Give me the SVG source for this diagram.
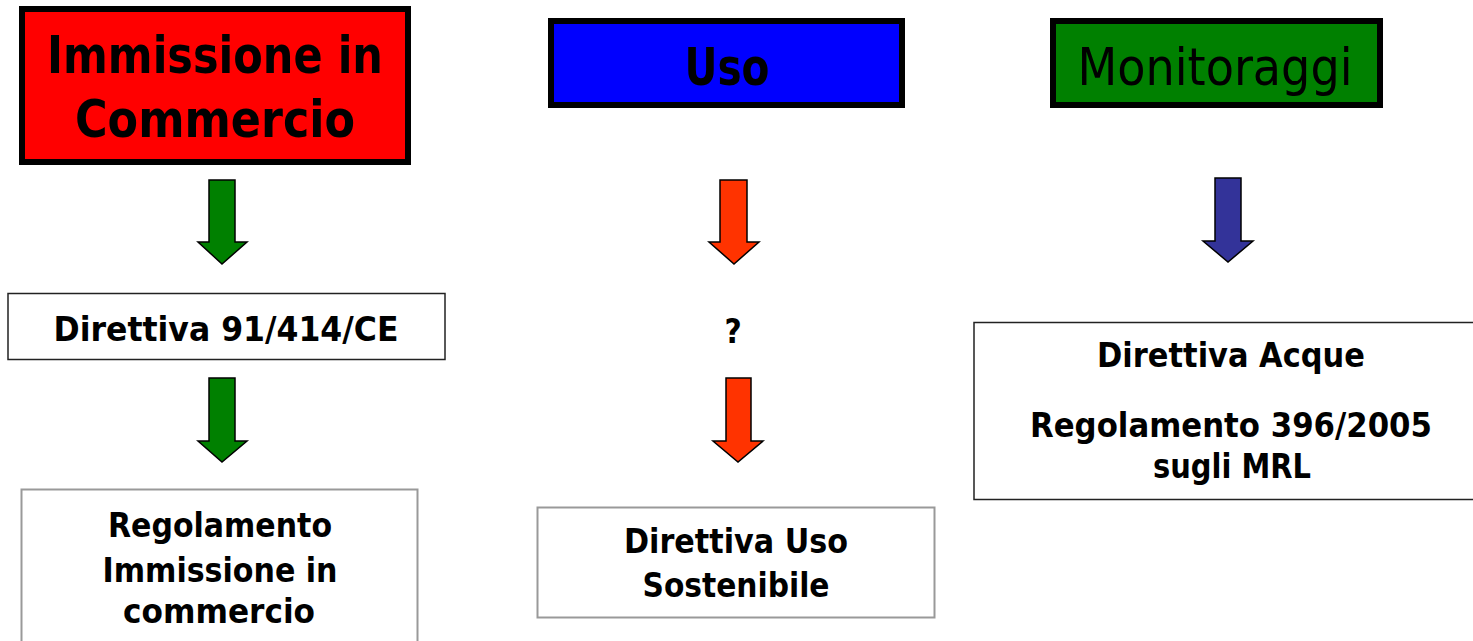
<svg xmlns="http://www.w3.org/2000/svg" width="1473" height="641" viewBox="0 0 1473 641">
<style>
.t{font-family:"DejaVu Sans","Liberation Sans",sans-serif;font-stretch:condensed;text-anchor:middle;fill:#000}
.big{font-size:52px}
.sm{font-size:33px;font-weight:bold}
.hd{stroke:#000;stroke-width:6}
.bx{fill:#fff;stroke:#222;stroke-width:1.5}
.gb{fill:#fff;stroke:#999;stroke-width:2}
.ar{stroke:#000;stroke-width:1.5;stroke-linejoin:miter}
</style>
<rect width="1473" height="641" fill="#fff"/>
<g id="immissione">
<rect class="hd" x="22" y="9" width="386" height="153" fill="#ff0000"/>
<text class="t big" x="215" y="73" font-weight="bold" textLength="336" lengthAdjust="spacingAndGlyphs">Immissione in</text>
<text class="t big" x="215" y="137" font-weight="bold" textLength="280" lengthAdjust="spacingAndGlyphs">Commercio</text>
</g>
<g id="uso">
<rect class="hd" x="551" y="21" width="351" height="84" fill="#0000ff"/>
<text class="t big" x="727" y="85" font-weight="bold" textLength="85" lengthAdjust="spacingAndGlyphs">Uso</text>
</g>
<g id="monitoraggi">
<rect class="hd" x="1053" y="21" width="327" height="84" fill="#008000"/>
<text class="t big" x="1215" y="85" textLength="275" lengthAdjust="spacingAndGlyphs">Monitoraggi</text>
</g>
<g id="direttiva91">
<rect class="bx" x="8" y="293.5" width="437" height="66"/>
<text class="t sm" x="226" y="341" textLength="345" lengthAdjust="spacingAndGlyphs">Direttiva 91/414/CE</text>
</g>
<g id="regolamento">
<rect class="gb" x="21.5" y="489.5" width="396" height="170"/>
<text class="t sm" x="220" y="537" textLength="224" lengthAdjust="spacingAndGlyphs">Regolamento</text>
<text class="t sm" x="220" y="582" textLength="235" lengthAdjust="spacingAndGlyphs">Immissione in</text>
<text class="t sm" x="219" y="623" textLength="192" lengthAdjust="spacingAndGlyphs">commercio</text>
</g>
<g id="questione">
<text class="t sm" x="733" y="343">?</text>
</g>
<g id="direttivauso">
<rect class="gb" x="537.5" y="507.5" width="397" height="110"/>
<text class="t sm" x="736" y="553" textLength="224" lengthAdjust="spacingAndGlyphs">Direttiva Uso</text>
<text class="t sm" x="736" y="597" textLength="187" lengthAdjust="spacingAndGlyphs">Sostenibile</text>
</g>
<g id="acque">
<rect class="bx" x="974" y="322.5" width="510" height="177"/>
<text class="t sm" x="1231" y="367" textLength="268" lengthAdjust="spacingAndGlyphs">Direttiva Acque</text>
<text class="t sm" x="1231" y="437" textLength="402" lengthAdjust="spacingAndGlyphs">Regolamento 396/2005</text>
<text class="t sm" x="1232" y="478" textLength="158" lengthAdjust="spacingAndGlyphs">sugli MRL</text>
</g>
<g id="connectors">
<polygon class="ar" fill="#008000" points="209,180 235,180 235,242 247,242 222,264 198,242 209,242"/>
<polygon class="ar" fill="#008000" points="209,378 235,378 235,441 247,441 222,462 198,441 209,441"/>
<polygon class="ar" fill="#ff3300" points="720,180 747,180 747,242 759,242 734,264 709,242 720,242"/>
<polygon class="ar" fill="#ff3300" points="726,378 751,378 751,441 763,441 738,462 713,441 726,441"/>
<polygon class="ar" fill="#333399" points="1215,178 1241,178 1241,241 1253,241 1228,262 1203,241 1215,241"/>
</g>
</svg>
